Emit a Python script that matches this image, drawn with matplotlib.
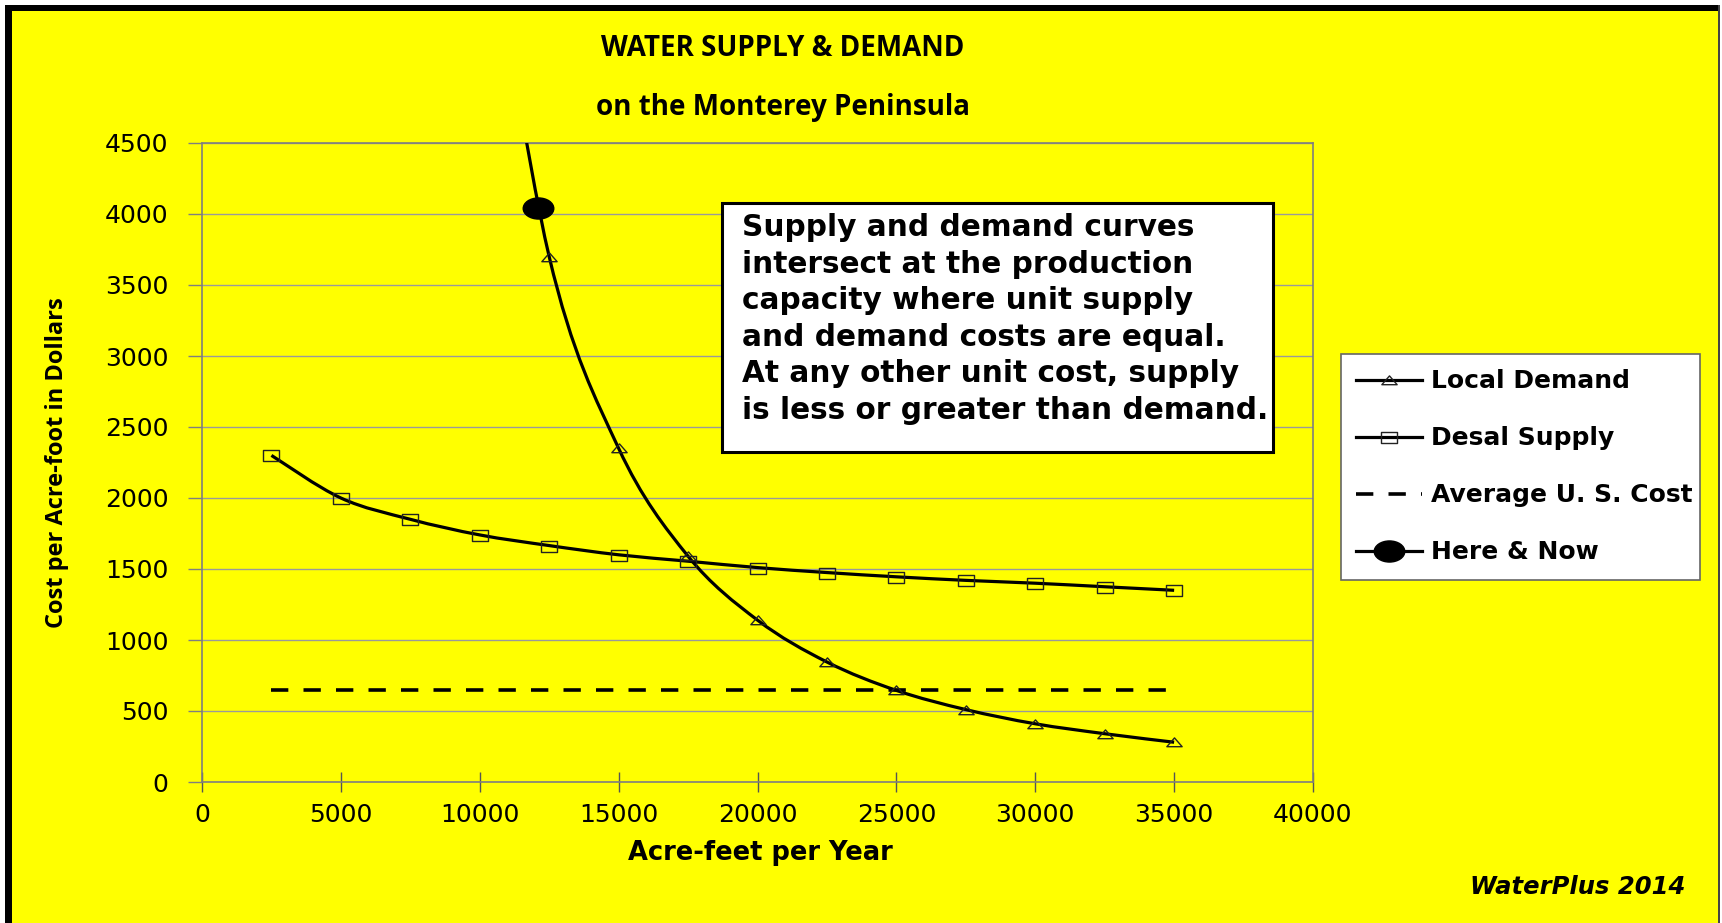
import numpy as np
import matplotlib
matplotlib.use("Agg")
import matplotlib.pyplot as plt
from matplotlib.path import Path
from matplotlib.patches import PathPatch, Rectangle
from matplotlib.lines import Line2D
from matplotlib.transforms import Affine2D

# data
flow = [2500, 5000, 7500, 10000, 12500, 15000, 17500, 20000, 22500, 25000, 27500, 30000, 32500, 35000]
desal_supply = [2300, 2000, 1850, 1740, 1665, 1600, 1555, 1510, 1475, 1445, 1420, 1400, 1375, 1350]
demand_flow = [10000, 12500, 15000, 17500, 20000, 22500, 25000, 27500, 30000, 32500, 35000]
local_demand = [6500, 3700, 2350, 1590, 1140, 845, 645, 510, 410, 340, 280]
avg_us_flow = [2500, 35000]
avg_us_cost = [650, 650]
here_now_x = [12100]
here_now_y = [4040]

xticks = list(range(0, 40001, 5000))
yticks = list(range(0, 4501, 500))

W, H = 1722, 923
fig = plt.figure(figsize=(W / 100, H / 100), dpi=100)
fig.patch.set_facecolor("white")

# yellow panel with heavy black frame on left/top
fig.patches.append(Rectangle((12 / W, 0), (1718 - 12) / W, (H - 11) / H, transform=fig.transFigure,
                             facecolor="#ffff00", edgecolor="none", zorder=-10))
fig.patches.append(Rectangle((5 / W, 0), 7 / W, (H - 5) / H, transform=fig.transFigure,
                             facecolor="black", edgecolor="none", zorder=-9))
fig.patches.append(Rectangle((5 / W, (H - 11) / H), (1719 - 5) / W, 6 / H, transform=fig.transFigure,
                             facecolor="black", edgecolor="none", zorder=-9))
fig.patches.append(Rectangle((1718 / W, 0), 1.5 / W, (H - 5) / H, transform=fig.transFigure,
                             facecolor="#444444", edgecolor="none", zorder=-9))

ax = fig.add_axes([202 / W, 1 - 782 / H, (1313 - 202) / W, (782 - 143) / H])
ax.set_facecolor("#ffff00")
ax.set_xlim(0, 40000)
ax.set_ylim(0, 4500)
ax.set_xticks(xticks)
ax.set_yticks(yticks)
ax.yaxis.grid(True, color="#9a9a9a", lw=1)
ax.set_axisbelow(True)
for s in ax.spines.values():
    s.set_color("#7f7f7f")
    s.set_linewidth(1.2)

tick_font = dict(family="DejaVu Sans", size=18)
ax.set_xticklabels([str(v) for v in xticks], **tick_font)
ax.set_yticklabels([str(v) for v in yticks], **tick_font)
ax.tick_params(axis="y", direction="out", length=10, width=1, color="#7f7f7f", pad=14)
ax.tick_params(axis="x", direction="inout", length=14, width=1, color="#555555", pad=8)


def smooth_path(xs, ys):
    pts = np.column_stack([xs, ys]).astype(float)
    verts = [pts[0]]
    codes = [Path.MOVETO]
    n = len(pts)
    for i in range(n - 1):
        p0 = pts[max(i - 1, 0)]
        p1 = pts[i]
        p2 = pts[i + 1]
        p3 = pts[min(i + 2, n - 1)]
        verts += [p1 + (p2 - p0) / 6, p2 - (p3 - p1) / 6, p2]
        codes += [Path.CURVE4] * 3
    return Path(verts, codes)


# wide markers (the original picture is stretched horizontally)
tri = Path([(-1, -0.55), (1, -0.55), (0, 0.6), (-1, -0.55)], closed=True)
sq = Path([(-1, -0.72), (1, -0.72), (1, 0.72), (-1, 0.72), (-1, -0.72)], closed=True)
ell = Path.unit_circle().transformed(Affine2D().scale(1.45, 1.0))

lw = 2.3
ax.add_patch(PathPatch(smooth_path(demand_flow, local_demand), fill=False, lw=lw, edgecolor="black", zorder=3))
ax.add_patch(PathPatch(smooth_path(flow, desal_supply), fill=False, lw=lw, edgecolor="black", zorder=3))
ax.plot(demand_flow, local_demand, ls="none", marker=tri, ms=11, mfc="none", mec="#222222", mew=1, zorder=4)
ax.plot(flow, desal_supply, ls="none", marker=sq, ms=11, mfc="none", mec="#222222", mew=1, zorder=4)
ax.plot(avg_us_flow, avg_us_cost, color="black", lw=2.6, ls=(0, (4.8, 4.2)), dash_capstyle="butt", zorder=3)
ax.plot(here_now_x, here_now_y, ls="none", marker=ell, ms=22, color="black", zorder=5)

ax.set_xlabel("Acre-feet per Year", family="DejaVu Sans", weight="bold", size=18.5)
ax.xaxis.set_label_coords(0.503, -0.111)
ax.xaxis.label.set_va("center")
ax.set_ylabel("Cost per Acre-foot in Dollars", family="Open Sans", weight="bold", size=17)
ax.yaxis.set_label_coords(-0.1305, 0.5)
ax.yaxis.label.set_va("center")

fig.text(783 / W, 1 - 49 / H, "WATER SUPPLY & DEMAND", family="Open Sans", weight="bold",
         size=20, ha="center", va="center")
fig.text(783 / W, 1 - 107 / H, "on the Monterey Peninsula", family="Open Sans", weight="bold",
         size=20, ha="center", va="center")

note = ("Supply and demand curves\nintersect at the production\ncapacity where unit supply\n"
        "and demand costs are equal.\nAt any other unit cost, supply\nis less or greater than demand.")
fig.patches.append(Rectangle((722 / W, 1 - 452 / H), (1273 - 722) / W, (452 - 203) / H,
                             transform=fig.transFigure, facecolor="white", edgecolor="black",
                             lw=2.2, zorder=6))
fig.text(742 / W, 1 - 213 / H, note, family="DejaVu Sans", weight="bold", size=21.3,
         ha="left", va="top", linespacing=1.33, zorder=7)

handles = [
    Line2D([], [], color="black", lw=lw, marker=tri, ms=11, mfc="none", mec="#222222", mew=1),
    Line2D([], [], color="black", lw=lw, marker=sq, ms=11, mfc="none", mec="#222222", mew=1),
    Line2D([], [], color="black", lw=2.6, ls=(0, (4.8, 4.2))),
    Line2D([], [], color="black", lw=lw, marker=ell, ms=22),
]
labels = ["Local Demand", "Desal Supply", "Average U. S. Cost", "Here & Now"]
leg = fig.legend(handles, labels, loc="upper left",
                 bbox_to_anchor=(1341 / W, 1 - 354 / H - 0.01, (1700 - 1341) / W, 0.01),
                 mode="expand", borderaxespad=0, frameon=True, fancybox=False, framealpha=1,
                 prop=dict(family="DejaVu Sans", weight="bold", size=18),
                 handlelength=2.64, handletextpad=0.36, labelspacing=1.32, borderpad=0.61)
leg.get_frame().set_edgecolor("#666666")
leg.get_frame().set_facecolor("white")
leg.get_frame().set_linewidth(1.2)

fig.text(1685 / W, 1 - 887 / H, "WaterPlus 2014", family="DejaVu Sans", weight="bold",
         style="italic", size=17.5, ha="right", va="center")

fig.savefig("out.png", dpi=100, facecolor=fig.get_facecolor())
